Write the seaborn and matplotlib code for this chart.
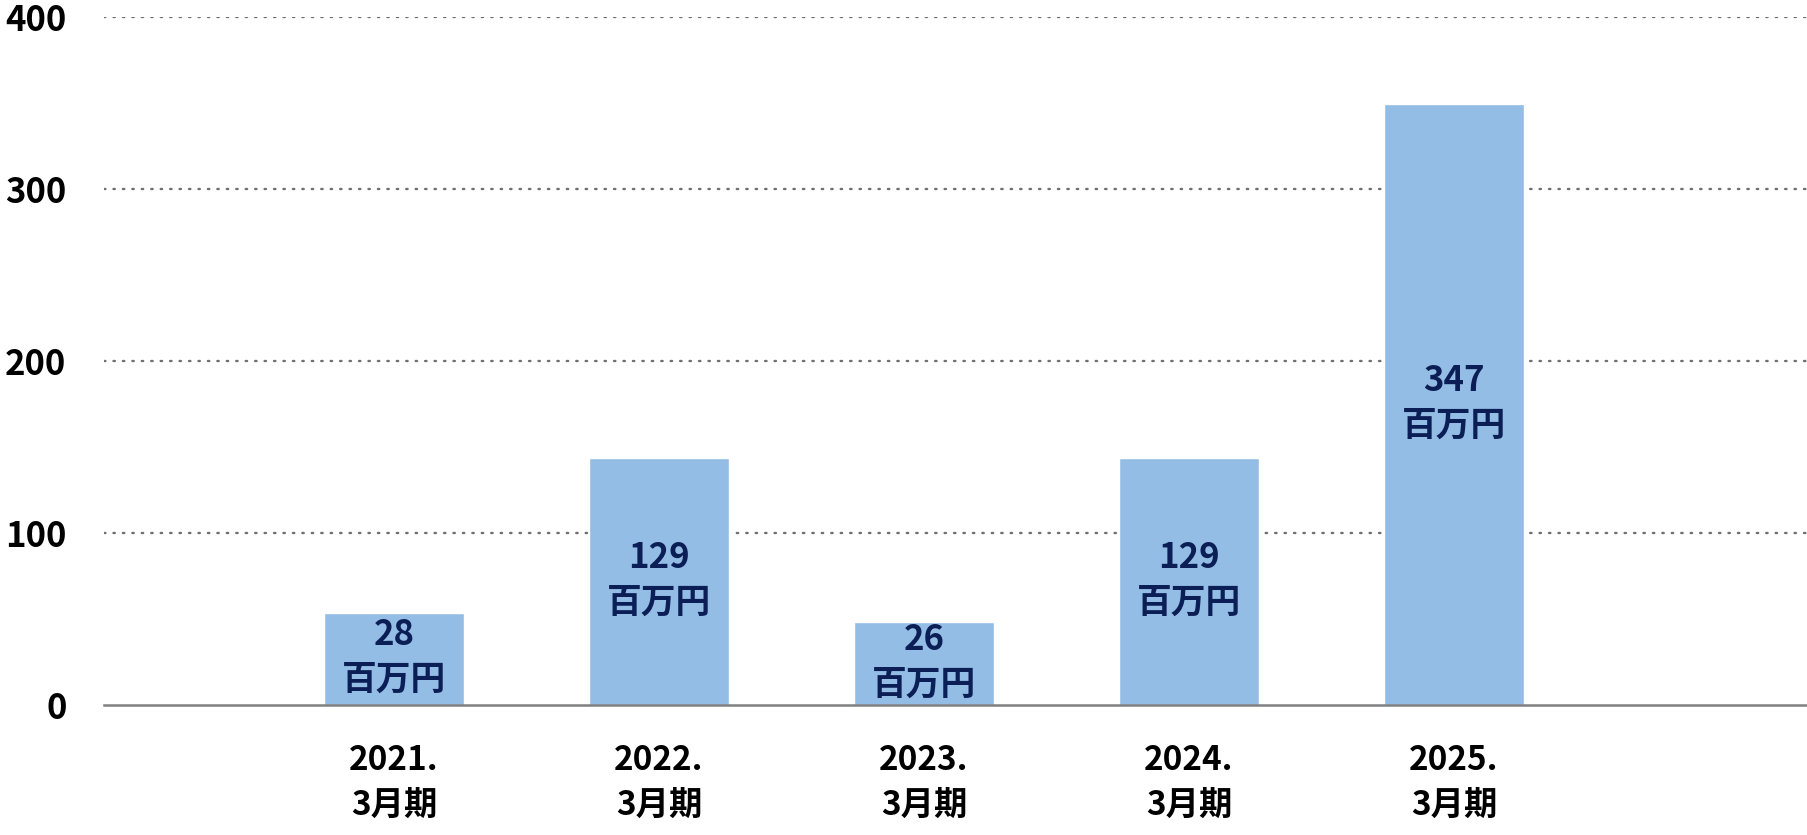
import matplotlib
matplotlib.use("Agg")
import matplotlib.pyplot as plt
import seaborn as sns
import pandas as pd

# Data
periods = ["2021.\n3月期", "2022.\n3月期", "2023.\n3月期", "2024.\n3月期", "2025.\n3月期"]
bar_heights = [53.5, 143.6, 48.3, 143.6, 349.4]   # drawn height on the axis
label_values = [28, 129, 26, 129, 347]             # printed values (百万円)
y_ticks = [0, 100, 200, 300, 400]

df = pd.DataFrame({"period": periods, "height": bar_heights})

sns.set_theme(style="white")
plt.rcParams["font.family"] = ["Noto Sans CJK JP", "DejaVu Sans"]

fig = plt.figure(figsize=(18.08, 8.35), dpi=100)
ax = fig.add_axes([104 / 1808, 1 - 705 / 835, 1 - 104 / 1808, (705 - 17) / 835])

sns.barplot(data=df, x="period", y="height", color="#93BDE4", saturation=1,
            width=0.53, ax=ax, zorder=3)

for i, (h, v) in enumerate(zip(bar_heights, label_values)):
    ax.text(i, h / 2 + 1, f"{v}\n百万円", ha="center", va="center",
            fontsize=25, fontweight="bold", color="#0B1E55",
            linespacing=1.35, zorder=4)

ax.set_xlim(-1.094, 5.336)
ax.set_ylim(0, 400)
ax.set_yticks(y_ticks)
ax.set_yticklabels([str(t) for t in y_ticks], fontsize=25, fontweight="bold", color="black")
ax.set_xticks(range(len(periods)))
ax.set_xticklabels(periods, fontsize=24, fontweight="bold", color="black", linespacing=1.45)
ax.set_xlabel("")
ax.set_ylabel("")
ax.tick_params(axis="y", length=0, pad=27)
ax.tick_params(axis="x", length=0, pad=28)

for t in y_ticks[1:]:
    ax.axhline(t, color="#707070", linewidth=1.7, linestyle=(0, (0.6, 3.4)),
               dash_capstyle="round", zorder=1)

for side in ["top", "right", "left"]:
    ax.spines[side].set_visible(False)
ax.spines["bottom"].set_color("#808080")
ax.spines["bottom"].set_linewidth(1.8)
ax.spines["bottom"].set_zorder(5)

fig.savefig("out.png", dpi=100)
